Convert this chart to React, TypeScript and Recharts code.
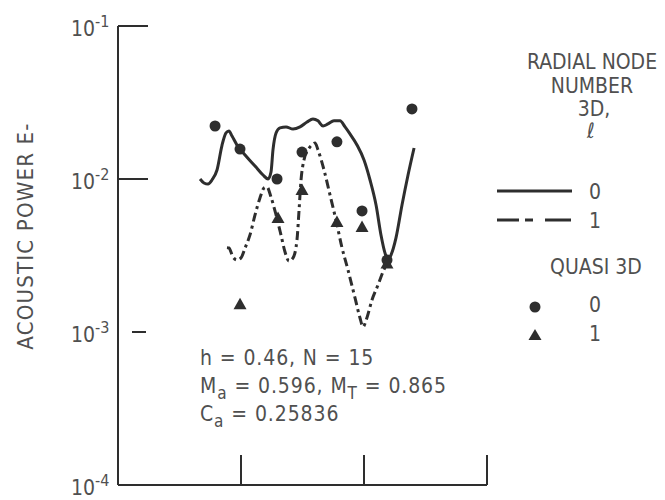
import React from "react";
import { ComposedChart, Line, Scatter, XAxis, YAxis } from "recharts";

const FONT = "'DejaVu Sans Condensed', 'Liberation Sans Narrow', 'DejaVu Sans', sans-serif";
const INK = "#2e2e2e";
const TEXT = "#505050";

const xTicks = [1, 2, 3];
const yTicks = [1e-4, 1e-3, 1e-2, 1e-1];

// 3D, l = 0 (solid)
const l0X = [0.667, 0.699, 0.732, 0.764, 0.805, 0.846, 0.878, 0.902, 0.927, 0.967, 1.033, 1.114, 1.179, 1.22, 1.244, 1.26, 1.285, 1.317, 1.366, 1.423, 1.48, 1.537, 1.585, 1.626, 1.667, 1.707, 1.756, 1.805, 1.846, 1.886, 1.943, 2.0, 2.049, 2.098, 2.138, 2.171, 2.195, 2.22, 2.26, 2.309, 2.358, 2.407];
const l0Y = [0.01, 0.00942, 0.00927, 0.00985, 0.01145, 0.01667, 0.02, 0.0206, 0.0191, 0.0167, 0.01435, 0.01216, 0.01062, 0.01, 0.01112, 0.01549, 0.02, 0.0216, 0.0219, 0.0212, 0.0219, 0.0236, 0.0247, 0.024, 0.0222, 0.0229, 0.024, 0.024, 0.0219, 0.0197, 0.0167, 0.0133, 0.00985, 0.00676, 0.00431, 0.00328, 0.00296, 0.00319, 0.00412, 0.00676, 0.01062, 0.01595];

// 3D, l = 1 (dash-dot)
const l1X = [0.886, 0.902, 0.935, 0.967, 1.0, 1.033, 1.073, 1.114, 1.154, 1.187, 1.211, 1.244, 1.285, 1.325, 1.358, 1.39, 1.423, 1.455, 1.472, 1.488, 1.512, 1.545, 1.577, 1.602, 1.626, 1.675, 1.724, 1.772, 1.821, 1.87, 1.927, 1.967, 1.992, 2.024, 2.065, 2.114, 2.154, 2.195];
const l1Y = [0.00356, 0.00354, 0.00309, 0.00296, 0.00305, 0.00354, 0.00431, 0.00582, 0.00751, 0.00873, 0.00887, 0.00762, 0.00582, 0.00431, 0.00333, 0.00291, 0.00305, 0.00399, 0.00627, 0.00985, 0.0133, 0.0155, 0.0167, 0.0172, 0.0155, 0.01145, 0.00785, 0.0054, 0.00356, 0.00254, 0.00167, 0.00124, 0.00108, 0.00124, 0.00162, 0.00203, 0.00247, 0.00287];

// quasi 3D points
const q0X = [0.789, 0.992, 1.293, 1.496, 1.78, 1.984, 2.187, 2.39];
const q0Y = [0.0222, 0.0157, 0.01, 0.015, 0.0175, 0.00618, 0.00295, 0.0287];
const q1X = [0.992, 1.301, 1.496, 1.78, 1.984, 2.187];
const q1Y = [0.00152, 0.00556, 0.00847, 0.00524, 0.00485, 0.0028];

const zip = (xs: number[], ys: number[]) => xs.map((x, i) => ({ x, y: ys[i] }));

const Dot = (p: any) => <circle cx={p.cx} cy={p.cy} r={5.5} fill={INK} />;
const Tri = (p: any) => (
  <path d={`M${p.cx},${p.cy - 6.5} L${p.cx + 6.5},${p.cy + 5} L${p.cx - 6.5},${p.cy + 5} Z`} fill={INK} />
);

function YTick(props: any) {
  const { x, y, payload } = props;
  const exp = Math.round(Math.log10(payload.value));
  let tickLine = null;
  if (exp === -1 || exp === -2) tickLine = <line x1={x} x2={x + 30} y1={y} y2={y} stroke={INK} strokeWidth={2} />;
  if (exp === -3) tickLine = <line x1={x + 14} x2={x + 28} y1={y} y2={y} stroke={INK} strokeWidth={2} />;
  return (
    <g>
      {tickLine}
      <text x={x - 47} y={y + 10} fontFamily={FONT} fontSize={21} fill={TEXT}>
        10
        <tspan dy={-9} fontSize={16}>{`-${-exp}`}</tspan>
      </text>
    </g>
  );
}

function XTick(props: any) {
  const { x, y } = props;
  return <line x1={x} x2={x} y1={y} y2={y - 30} stroke={INK} strokeWidth={2} />;
}

export default function App() {
  return (
    <div style={{ position: "absolute", left: 0, top: 0, width: 665, height: 500, background: "#fff" }}>
      <ComposedChart width={665} height={500} margin={{ top: 26, right: 178, bottom: 5, left: 0 }}>
        <XAxis
          type="number"
          dataKey="x"
          domain={[0, 3]}
          ticks={xTicks}
          height={10}
          tickSize={0}
          tickMargin={0}
          tickLine={false}
          tick={XTick}
          axisLine={{ stroke: INK, strokeWidth: 2 }}
          allowDataOverflow
        />
        <YAxis
          type="number"
          dataKey="y"
          scale="log"
          domain={[1e-4, 1e-1]}
          ticks={yTicks}
          width={118}
          tickSize={0}
          tickMargin={0}
          tickLine={false}
          tick={YTick}
          axisLine={{ stroke: INK, strokeWidth: 2 }}
          allowDataOverflow
        />
        <Line data={zip(l0X, l0Y)} dataKey="y" type="monotone" stroke={INK} strokeWidth={3} dot={false} isAnimationActive={false} />
        <Line data={zip(l1X, l1Y)} dataKey="y" type="monotone" stroke={INK} strokeWidth={3} strokeDasharray="9 4 3 4" dot={false} isAnimationActive={false} />
        <Scatter data={zip(q0X, q0Y)} dataKey="y" shape={Dot} isAnimationActive={false} />
        <Scatter data={zip(q1X, q1Y)} dataKey="y" shape={Tri} isAnimationActive={false} />
      </ComposedChart>
      <svg width={665} height={500} style={{ position: "absolute", left: 0, top: 0, pointerEvents: "none" }}>
        <g fontFamily={FONT} fill={TEXT}>
          <text x={25} y={236} fontSize={22} letterSpacing={1.2} textAnchor="middle" dominantBaseline="central" transform="rotate(-90 25 236)">
            ACOUSTIC POWER E-
          </text>
          <g fontSize={21}>
            <text x={592} y={69} textAnchor="middle">RADIAL NODE</text>
            <text x={592} y={93} textAnchor="middle">NUMBER</text>
            <text x={594} y={116} textAnchor="middle">3D,</text>
            <text x={591} y={138} textAnchor="middle" fontStyle="italic">ℓ</text>
            <line x1={497} x2={572} y1={191} y2={191} stroke={INK} strokeWidth={3} />
            <text x={595} y={199} textAnchor="middle">0</text>
            <line x1={497} x2={572} y1={220} y2={220} stroke={INK} strokeWidth={3} strokeDasharray="22 6 8 12 26" />
            <text x={595} y={228} textAnchor="middle">1</text>
            <text x={596} y={274} textAnchor="middle">QUASI 3D</text>
            <circle cx={535} cy={307} r={5.5} fill={INK} />
            <text x={595} y={312} textAnchor="middle">0</text>
            <path d="M535,329 L541.5,340 L528.5,340 Z" fill={INK} />
            <text x={595} y={341} textAnchor="middle">1</text>
          </g>
          <g fontSize={21} letterSpacing={0.9}>
            <text x={200} y={365}>h = 0.46, N = 15</text>
            <text x={200} y={393}>
              M<tspan dy={6} fontSize={17}>a</tspan>
              <tspan dy={-6}> = 0.596, M</tspan>
              <tspan dy={6} fontSize={17}>T</tspan>
              <tspan dy={-6}> = 0.865</tspan>
            </text>
            <text x={200} y={421}>
              C<tspan dy={6} fontSize={17}>a</tspan>
              <tspan dy={-6}> = 0.25836</tspan>
            </text>
          </g>
        </g>
      </svg>
    </div>
  );
}
